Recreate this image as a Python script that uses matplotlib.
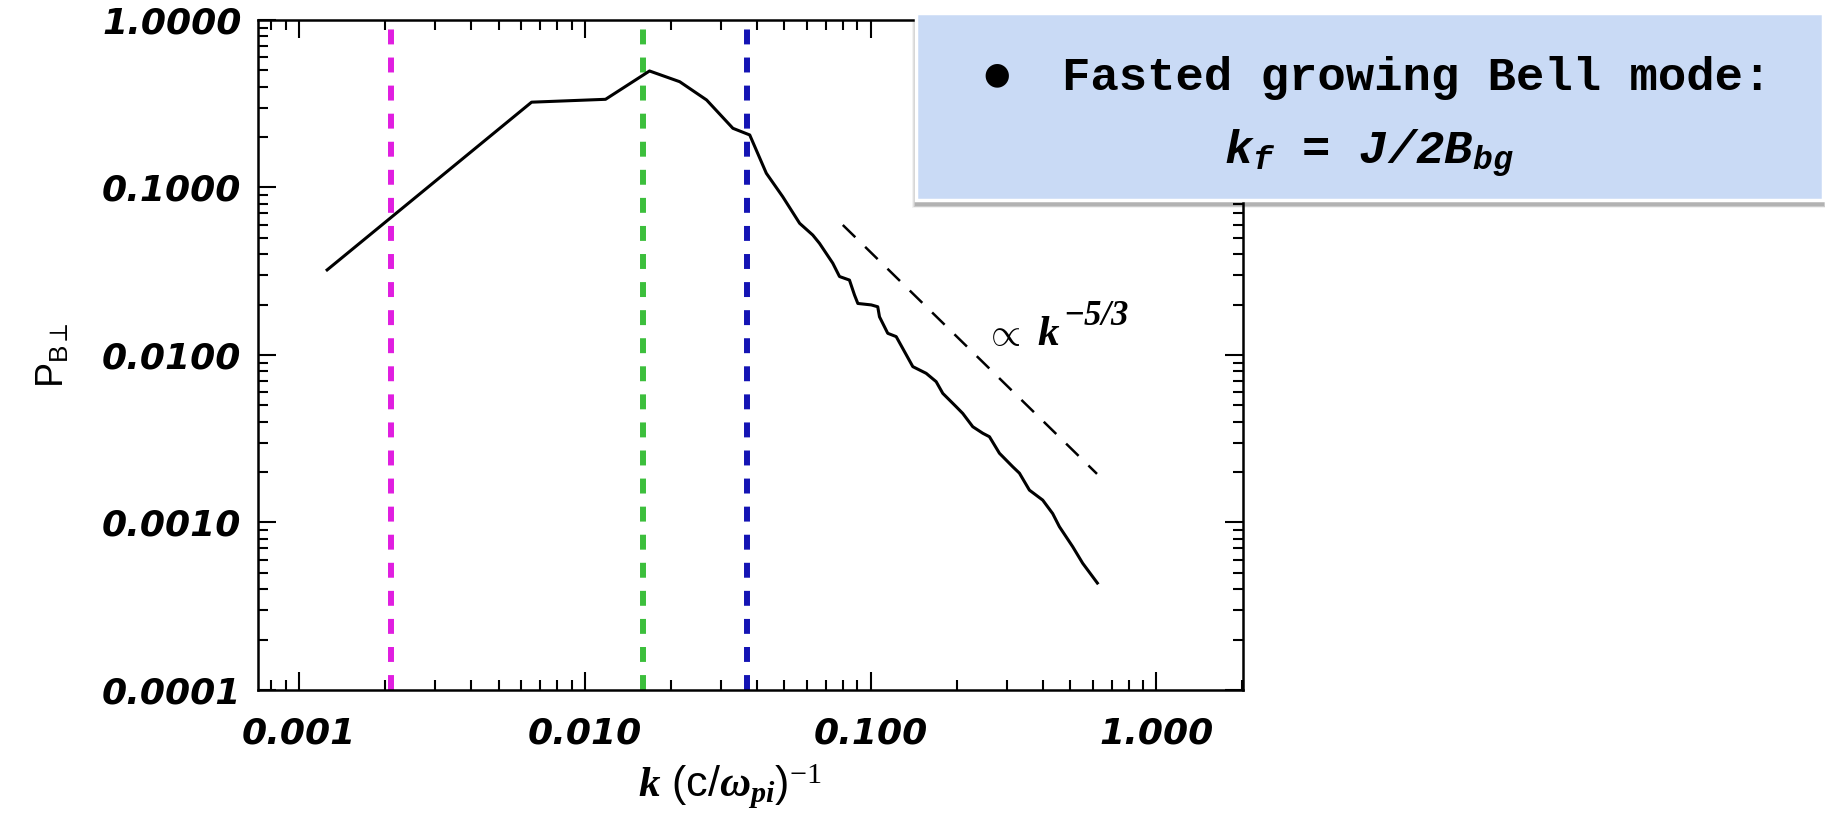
import matplotlib
matplotlib.use("Agg")
import matplotlib.pyplot as plt
from matplotlib.patches import Rectangle
from matplotlib.ticker import LogLocator, NullFormatter
import numpy as np

# magnetic power spectrum, perpendicular component
k_spec = [0.001256, 0.00652, 0.01183, 0.01686, 0.0215, 0.0267, 0.0330, 0.0378,
          0.0432, 0.0493, 0.0565, 0.0628, 0.0663, 0.0738, 0.0779, 0.0844, 0.0879,
          0.0903, 0.1006, 0.1060, 0.1075, 0.1149, 0.1230, 0.1406, 0.1566, 0.1697,
          0.1790, 0.1994, 0.2102, 0.2279, 0.2470, 0.2607, 0.2825, 0.3146, 0.3319,
          0.3597, 0.4004, 0.4339, 0.4579, 0.5097, 0.5524, 0.6218]
p_spec = [0.0322, 0.323, 0.336, 0.496, 0.428, 0.333, 0.2256, 0.2058,
          0.1216, 0.0881, 0.0611, 0.0520, 0.0464, 0.0353, 0.0294, 0.0280, 0.0228,
          0.0203, 0.0199, 0.0194, 0.0169, 0.01347, 0.01287, 0.00852, 0.00777, 0.00693,
          0.00590, 0.00491, 0.00448, 0.00373, 0.00341, 0.00325, 0.00259, 0.00215, 0.00197,
          0.00156, 0.00136, 0.00113, 0.000944, 0.000717, 0.000571, 0.000435]

# characteristic wavenumbers
k_marks = [0.0021, 0.016, 0.037]
mark_colors = ['#e01ee0', '#3cbf3c', '#1414b4']

# k^-5/3 guide line (end points)
k_guide = [0.080, 0.62]
p_guide = [0.0597, 0.00195]

x_ticks = [0.001, 0.01, 0.1, 1.0]
x_labels = ['0.001', '0.010', '0.100', '1.000']
y_ticks = [1e-4, 1e-3, 1e-2, 1e-1, 1.0]
y_labels = ['0.0001', '0.0010', '0.0100', '0.1000', '1.0000']

plt.rcParams.update({
    'font.family': 'Liberation Sans',
    'mathtext.fontset': 'custom',
    'mathtext.rm': 'Liberation Serif',
    'mathtext.it': 'Liberation Serif:italic:bold',
    'mathtext.bf': 'Liberation Serif:bold',
    'mathtext.sf': 'Liberation Sans',
    'mathtext.tt': 'Liberation Mono:bold:italic',
})

fig = plt.figure(figsize=(18.25, 8.15), dpi=100)
ax = fig.add_axes([0.1414, 0.1534, 0.5397, 0.8221])

for kx, c in zip(k_marks, mark_colors):
    ax.axvline(kx, color=c, lw=4.3, dashes=(2.5, 2.2), zorder=2)
ax.plot(k_spec, p_spec, color='black', lw=2.2, zorder=3)
ax.plot(k_guide, p_guide, color='black', lw=1.8, dashes=(7, 5.5), zorder=3)

ax.set_xscale('log')
ax.set_yscale('log')
ax.set_xlim(7.2e-4, 2.01)
ax.set_ylim(1e-4, 1.0)

ax.set_xticks(x_ticks)
ax.set_xticklabels(x_labels)
ax.set_yticks(y_ticks)
ax.set_yticklabels(y_labels)
for axis in (ax.xaxis, ax.yaxis):
    axis.set_minor_locator(LogLocator(base=10, subs=np.arange(2, 10)))
    axis.set_minor_formatter(NullFormatter())

ax.tick_params(which='both', direction='in', top=True, right=True, width=1.5)
ax.tick_params(which='major', length=13)
ax.tick_params(which='minor', length=7)
ax.tick_params(axis='y', pad=12)
ax.tick_params(axis='x', pad=19)
for lab in ax.get_xticklabels() + ax.get_yticklabels():
    lab.set_fontfamily('DejaVu Sans')
    lab.set_fontsize(26)
    lab.set_fontweight('bold')
    lab.set_fontstyle('italic')
for s in ax.spines.values():
    s.set_linewidth(1.8)

ax.set_xlabel(r'$k$ (c/$\omega_{pi}$)$^{\mathit{-1}}$', fontsize=31)
ax.xaxis.set_label_coords(0.479, -0.108)
ax.set_ylabel(r'P$_{\mathsf{B}\perp}$', fontsize=27)
ax.yaxis.set_label_coords(-0.189, 0.5)

# slope label: proportionality sign, k and a large exponent
ax.text(0.2500, 0.01148, r'$\propto$', fontsize=28, ha='left', va='baseline')
ax.text(0.384, 0.01148, 'k', fontsize=31, family='Liberation Serif',
        fontweight='bold', fontstyle='italic', ha='left', va='baseline')
ax.text(0.472, 0.0152, '\u22125/3', fontsize=25, family='Liberation Serif',
        fontweight='bold', fontstyle='italic', ha='left', va='baseline')

# annotation box with drop shadow
bx, by, bw, bh = 0.502, 0.755, 0.497, 0.229
for i, a in enumerate([0.05, 0.07, 0.09, 0.12]):
    off = (4 - i) * 0.0012
    fig.patches.append(Rectangle((bx - off * 0.5, by - 0.006 - off), bw + off, bh,
                                 transform=fig.transFigure, facecolor='black',
                                 edgecolor='none', alpha=a, zorder=5))
fig.patches.append(Rectangle((bx, by), bw, bh, transform=fig.transFigure,
                             facecolor='#c9daf5', edgecolor='white', lw=2.5, zorder=6))
fig.text(0.546, 0.908, '\u25cf', fontsize=22, family='DejaVu Sans',
         ha='center', va='center', zorder=7)
fig.text(0.582, 0.904, 'Fasted growing Bell mode:', fontsize=34,
         family='Liberation Mono', fontweight='bold', ha='left', va='center', zorder=7)
fig.text(0.750, 0.812, r'k$_\mathtt{f}$ = J/2B$_\mathtt{bg}$', fontsize=34,
         family='Liberation Mono', fontweight='bold', fontstyle='italic',
         ha='center', va='center', zorder=7)

fig.savefig('out.png', dpi=100)
